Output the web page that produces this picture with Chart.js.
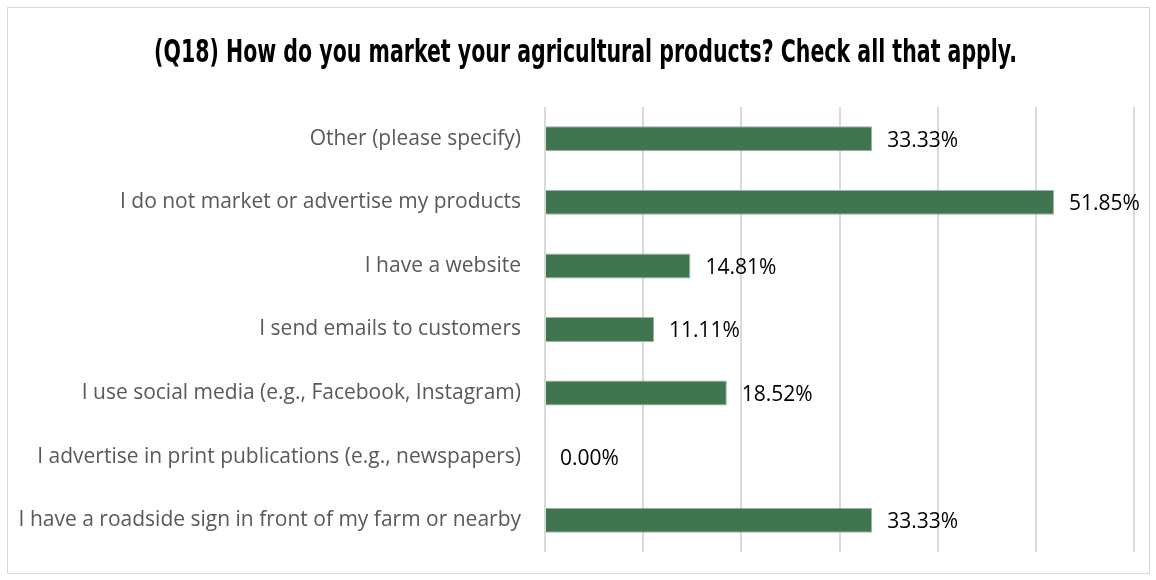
<!DOCTYPE html>
<html>
<head>
<meta charset="utf-8">
<script src="https://cdn.jsdelivr.net/npm/chart.js@4/dist/chart.umd.min.js"></script>
<style>
  body { margin: 0; background: #fff; }
  #box {
    position: absolute; left: 7px; top: 7px;
    width: 1141px; height: 565px;
    border: 1px solid #d9d9d9; background: #fff;
  }
</style>
</head>
<body>
<div id="box"><canvas id="q18"></canvas></div>
<script>
const chartTitle = '(Q18) How do you market your agricultural products? Check all that apply.';
const categories = [
  'Other (please specify)',
  'I do not market or advertise my products',
  'I have a website',
  'I send emails to customers',
  'I use social media (e.g., Facebook, Instagram)',
  'I advertise in print publications (e.g., newspapers)',
  'I have a roadside sign in front of my farm or nearby'
];
const shares = [33.33, 51.85, 14.81, 11.11, 18.52, 0.00, 33.33];

// percent labels just past the end of each bar
const barValueLabels = {
  id: 'barValueLabels',
  afterDatasetsDraw(chart) {
    const ctx = chart.ctx;
    const meta = chart.getDatasetMeta(0);
    ctx.save();
    ctx.font = '21px "Open Sans", "Noto Sans", sans-serif';
    ctx.fillStyle = '#000';
    ctx.textAlign = 'left';
    ctx.textBaseline = 'middle';
    meta.data.forEach((bar, i) => {
      ctx.fillText(shares[i].toFixed(2) + '%', bar.x + 15, bar.y + 2);
    });
    ctx.restore();
  }
};

// narrow headline: condensed bold face squeezed horizontally, stretched a bit vertically
const narrowTitle = {
  id: 'narrowTitle',
  afterDraw(chart) {
    const ctx = chart.ctx;
    ctx.save();
    ctx.font = 'bold 27px "DejaVu Sans Condensed", sans-serif';
    ctx.fillStyle = '#000';
    ctx.textAlign = 'center';
    ctx.textBaseline = 'middle';
    ctx.translate(chart.width / 2 + 7, 46);
    ctx.scale(0.845, 1.15);
    ctx.fillText(chartTitle, 0, 0);
    ctx.restore();
  }
};

new Chart(document.getElementById('q18'), {
  type: 'bar',
  data: {
    labels: categories,
    datasets: [{
      data: shares,
      backgroundColor: '#41754f',
      borderColor: '#9bb7a2',
      borderWidth: 1,
      categoryPercentage: 0.8,
      barPercentage: 0.49
    }]
  },
  options: {
    indexAxis: 'y',
    responsive: true,
    maintainAspectRatio: false,
    animation: false,
    layout: { padding: { left: 0, right: 15, top: 99, bottom: 21 } },
    plugins: {
      legend: { display: false },
      tooltip: { enabled: false },
      title: { display: false }
    },
    scales: {
      x: {
        min: 0,
        max: 60,
        afterFit(scale) { scale.height = 0; },
        ticks: { display: false, stepSize: 10 },
        border: { display: false },
        grid: { color: '#d9d9d9', lineWidth: 2, drawTicks: false }
      },
      y: {
        afterFit(scale) {
          scale.width = 537;
          scale.paddingTop = 0;
          scale.paddingBottom = 0;
        },
        ticks: {
          color: '#595959',
          padding: 16,
          font: { family: '"Open Sans", "Noto Sans", sans-serif', size: 21 }
        },
        border: { display: false },
        grid: { display: false }
      }
    }
  },
  plugins: [barValueLabels, narrowTitle]
});
</script>
</body>
</html>
